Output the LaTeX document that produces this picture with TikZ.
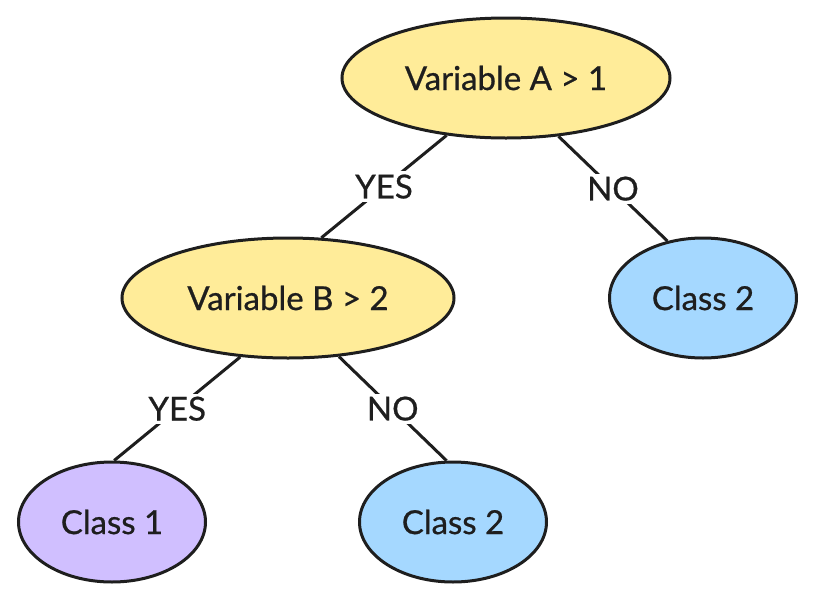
\documentclass[tikz,border=0pt]{standalone}
\usepackage{fontspec}
\setmainfont{Lato}
\newfontfamily\medfont{Lato}[FakeBold=0.7]
\usetikzlibrary{shapes.geometric}
\definecolor{ink}{HTML}{1E1E1E}
\definecolor{yel}{HTML}{FFEC99}
\definecolor{blu}{HTML}{A5D8FF}
\definecolor{pur}{HTML}{D0BFFF}
\tikzset{
  ell/.style={ellipse, draw=ink, line width=3pt, inner sep=0pt, minimum height=120pt, text=ink, font=\medfont\fontsize{33}{38}\selectfont},
  decision/.style={ell, fill=yel, minimum width=328pt},
  leaf/.style={ell, minimum width=187pt},
  conn/.style={draw=ink, line width=3pt},
  lbl/.style={fill=white, text=ink, inner sep=3pt, font=\medfont\fontsize{33}{38}\selectfont}
}
\begin{document}
\begin{tikzpicture}[x=1pt,y=-1pt]
\useasboundingbox (0,0) rectangle (815,603);
\node[decision] (A) at (506,78) {Variable A > 1};
\node[decision, minimum width=332pt] (B) at (288,298) {Variable B > 2};
\node[leaf, fill=blu] (C2r) at (703,298) {Class 2};
\node[leaf, fill=pur] (C1) at (112,522) {Class 1};
\node[leaf, fill=blu] (C2l) at (453,522) {Class 2};
\draw[conn] (A.224) -- node[lbl] {YES} (B.61);
\draw[conn] (A.312) -- node[lbl] {NO} (C2r.122);
\draw[conn] (B.231) -- node[lbl] {YES} (C1.88);
\draw[conn] (B.311) -- node[lbl] {NO} (C2l.96);
\end{tikzpicture}
\end{document}
